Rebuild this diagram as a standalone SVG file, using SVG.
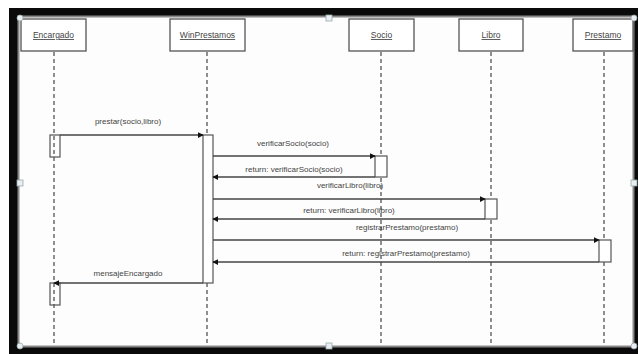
<svg xmlns="http://www.w3.org/2000/svg" width="638" height="354" viewBox="0 0 638 354">
<defs>
<style>
.box{fill:#fff;stroke:#555;stroke-width:1.3}
.act{fill:#fff;stroke:#555;stroke-width:1.2}
.actc{fill:none;stroke:#555;stroke-width:1.2}
.life{stroke:#555;stroke-width:1.3;stroke-dasharray:4 3;fill:none}
.msg{stroke:#444;stroke-width:1.3;fill:none}
.lbl{font-family:"Liberation Sans",Arial,sans-serif;font-size:8px;fill:#444;text-anchor:middle}
.name{font-family:"Liberation Sans",Arial,sans-serif;font-size:8.5px;fill:#444;text-anchor:middle;text-decoration:underline}
.hc{fill:#e8eef4;stroke:#9aa;stroke-width:0.8}
</style>
<marker id="ah" viewBox="0 0 8 8" refX="7" refY="4" markerWidth="6" markerHeight="6" orient="auto" markerUnits="userSpaceOnUse">
<path d="M0,0 L8,4 L0,8 z" fill="#111"/>
</marker>
</defs>
<rect x="0" y="0" width="638" height="354" fill="#fff"/>
<rect x="9" y="8" width="629" height="346" fill="#0a0a0a"/>
<rect x="18.5" y="16.5" width="615" height="330" fill="#fdfdfd" stroke="#888" stroke-width="2"/>

<g id="lifelines">
<line class="life" x1="54" y1="52" x2="54" y2="346"/>
<line class="life" x1="207" y1="52" x2="207" y2="346"/>
<line class="life" x1="381" y1="52" x2="381" y2="346"/>
<line class="life" x1="491" y1="52" x2="491" y2="346"/>
<line class="life" x1="604" y1="52" x2="604" y2="346"/>
</g>

<g id="Encargado">
<rect class="box" x="21" y="19" width="65" height="32"/>
<text class="name" x="53.5" y="38">Encargado</text>
</g>
<g id="WinPrestamos">
<rect class="box" x="170" y="19" width="75" height="32"/>
<text class="name" x="207.5" y="38">WinPrestamos</text>
</g>
<g id="Socio">
<rect class="box" x="349" y="19" width="65" height="32"/>
<text class="name" x="381.5" y="38">Socio</text>
</g>
<g id="Libro">
<rect class="box" x="459" y="19" width="64" height="32"/>
<text class="name" x="491" y="38">Libro</text>
</g>
<g id="Prestamo">
<rect class="box" x="573" y="19" width="60" height="32"/>
<text class="name" x="603" y="38">Prestamo</text>
</g>

<g id="activations">
<rect class="actc" x="50" y="135" width="10" height="22"/>
<rect class="act" x="203" y="135" width="10" height="148"/>
<rect class="act" x="375" y="156" width="12" height="21"/>
<rect class="act" x="485" y="199" width="12" height="20"/>
<rect class="act" x="599" y="240" width="12" height="22"/>
<rect class="actc" x="50" y="283" width="10" height="22"/>
</g>

<g id="connectors">
<line class="msg" x1="60" y1="135" x2="203" y2="135" marker-end="url(#ah)"/>
<line class="msg" x1="213" y1="156" x2="375" y2="156" marker-end="url(#ah)"/>
<line class="msg" x1="375" y1="177" x2="213" y2="177" marker-end="url(#ah)"/>
<line class="msg" x1="213" y1="199" x2="485" y2="199" marker-end="url(#ah)"/>
<line class="msg" x1="485" y1="219" x2="213" y2="219" marker-end="url(#ah)"/>
<line class="msg" x1="213" y1="240" x2="599" y2="240" marker-end="url(#ah)"/>
<line class="msg" x1="599" y1="262" x2="213" y2="262" marker-end="url(#ah)"/>
<line class="msg" x1="203" y1="283" x2="54" y2="283" marker-end="url(#ah)"/>
</g>

<g id="labels">
<text class="lbl" x="128" y="124">prestar(socio,libro)</text>
<text class="lbl" x="293" y="146">verificarSocio(socio)</text>
<text class="lbl" x="294" y="172">return: verificarSocio(socio)</text>
<text class="lbl" x="350" y="188">verificarLibro(libro)</text>
<text class="lbl" x="349" y="213">return: verificarLibro(libro)</text>
<text class="lbl" x="407" y="230">registrarPrestamo(prestamo)</text>
<text class="lbl" x="406" y="256">return: registrarPrestamo(prestamo)</text>
<text class="lbl" x="128" y="276">mensajeEncargado</text>
</g>

<g id="handles">
<circle class="hc" cx="20" cy="18" r="3"/>
<circle class="hc" cx="634" cy="18" r="3"/>
<circle class="hc" cx="20" cy="346" r="3"/>
<circle class="hc" cx="634" cy="346" r="3"/>
<rect class="hc" x="326" y="15" width="6" height="6"/>
<rect class="hc" x="326" y="343" width="6" height="6"/>
<rect class="hc" x="17" y="180" width="6" height="6"/>
<rect class="hc" x="631" y="180" width="6" height="6"/>
</g>
</svg>
